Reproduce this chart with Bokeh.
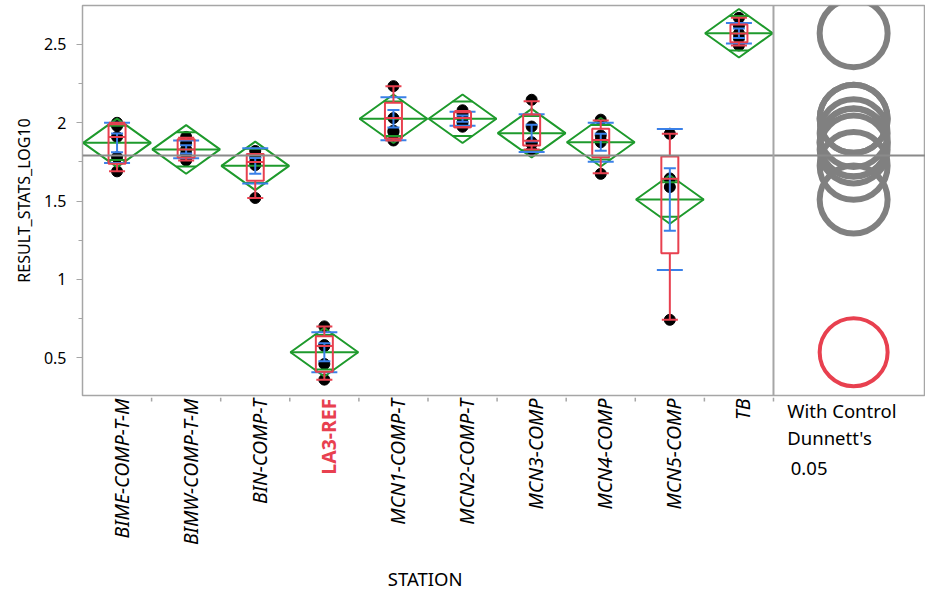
import numpy as np
from bokeh.plotting import figure
from bokeh.layouts import column
from bokeh.models import Range1d, FixedTicker, Span, ColumnDataSource, NumeralTickFormatter, Title
from bokeh.core.properties import value
from bokeh.embed import file_html
from bokeh.resources import INLINE

# ---------------- data ----------------
stations = ["BIME-COMP-T-M", "BIMW-COMP-T-M", "BIN-COMP-T", "LA3-REF", "MCN1-COMP-T",
            "MCN2-COMP-T", "MCN3-COMP", "MCN4-COMP", "MCN5-COMP", "TB"]
control = "LA3-REF"

means    = [1.872, 1.830, 1.725, 0.535, 2.026, 2.026, 1.934, 1.876, 1.510, 2.572]
ci_half  = [0.155, 0.155, 0.155, 0.155, 0.155, 0.155, 0.155, 0.155, 0.155, 0.155]
q1       = [1.738, 1.778, 1.630, 0.410, 1.900, 1.972, 1.855, 1.780, 1.167, 2.515]
medians  = [1.910, 1.830, 1.750, 0.574, 2.030, 2.030, 1.885, 1.890, 1.642, 2.570]
q3       = [1.990, 1.895, 1.800, 0.637, 2.128, 2.068, 2.053, 1.962, 1.785, 2.628]
wlo      = [1.690, 1.760, 1.520, 0.360, 1.887, 1.972, 1.830, 1.678, 0.742, 2.494]
whi      = [2.000, 1.905, 1.800, 0.700, 2.234, 2.075, 2.138, 2.015, 1.930, 2.670]
std_dev  = [0.128, 0.057, 0.113, 0.128, 0.137, 0.045, 0.121, 0.125, 0.450, 0.066]
std_err  = [0.060, 0.026, 0.050, 0.057, 0.056, 0.020, 0.054, 0.054, 0.200, 0.030]

points = {
    "BIME-COMP-T-M": [2.00, 1.98, 1.91, 1.78, 1.69],
    "BIMW-COMP-T-M": [1.91, 1.87, 1.83, 1.80, 1.76],
    "BIN-COMP-T":    [1.82, 1.78, 1.75, 1.73, 1.52],
    "LA3-REF":       [0.70, 0.581, 0.574, 0.46, 0.36],
    "MCN1-COMP-T":   [2.234, 2.03, 1.95, 1.94, 1.887],
    "MCN2-COMP-T":   [2.08, 2.06, 2.03, 2.00, 1.975],
    "MCN3-COMP":     [2.147, 1.976, 1.876, 1.866, 1.82],
    "MCN4-COMP":     [2.02, 1.919, 1.887, 1.876, 1.674],
    "MCN5-COMP":     [1.93, 1.645, 1.64, 1.59, 0.742],
    "TB":            [2.67, 2.62, 2.57, 2.54, 2.494],
}
dunnett_radius = 0.217
y_ticks = [0.5, 1, 1.5, 2, 2.5]
x_title = "STATION"
y_title = "RESULT_STATS_LOG10"
circle_notes = ["With Control", "Dunnett's", "0.05"]

# ---------------- styling ----------------
GREEN = "#1e9a2c"
RED = "#e8404f"
BLUE = "#3a80e8"
GREY = "#808080"
FRAME = "#a6a6a6"
FONT = "Noto Sans"
FS = "16px"
FS_CAT = "19.5px"
FS_TXT = "18.5px"

n = len(stations)
xc = np.arange(n) + 0.5
m = np.array(means)
h = np.array(ci_half)
dw = 0.49           # half width of diamond (category units)
bw = 0.123          # half width of box
cw = 0.116          # half width of whisker caps
sw = 0.188          # half width of std dev lines
ew = 0.087          # half width of error bar caps
circle_x = 11.16

x_range = Range1d(0, 12.2)
y_lo, y_hi = 0.2587, 2.749
p = figure(width=925, height=397, output_backend="svg", toolbar_location=None,
           x_range=x_range, y_range=Range1d(y_lo, y_hi),
           min_border_left=82, min_border_right=0, min_border_top=5, min_border_bottom=2)
p.background_fill_color = "white"
p.border_fill_color = "white"
p.outline_line_color = FRAME
p.outline_line_width = 1.5
p.xgrid.visible = False
p.ygrid.visible = False
p.xaxis.visible = False

# points
px, py = [], []
for i, s in enumerate(stations):
    for v in points[s]:
        px.append(xc[i]); py.append(v)
p.scatter(px, py, size=11, color="black")

# grand mean and divider
p.add_layout(Span(location=float(np.mean(means)), dimension="width", line_color="#8a8a8a", line_width=2))
p.add_layout(Span(location=10, dimension="height", line_color=FRAME, line_width=2))

# means diamonds
xs = [[c - dw, c, c + dw, c] for c in xc]
ys = [[mm, mm + hh, mm, mm - hh] for mm, hh in zip(m, h)]
p.patches(xs, ys, fill_color=None, line_color=GREEN, line_width=2)
p.segment(xc - dw, m, xc + dw, m, line_color=GREEN, line_width=2)
ov = h / np.sqrt(2)
ow = dw * (1 - 1 / np.sqrt(2))
p.segment(xc - ow, m + ov, xc + ow, m + ov, line_color=GREEN, line_width=2)
p.segment(xc - ow, m - ov, xc + ow, m - ov, line_color=GREEN, line_width=2)

# std dev lines and mean error bars
sd = np.array(std_dev); se = np.array(std_err)
p.segment(xc - sw, m + sd, xc + sw, m + sd, line_color=BLUE, line_width=2)
p.segment(xc - sw, m - sd, xc + sw, m - sd, line_color=BLUE, line_width=2)
p.segment(xc, m - se, xc, m + se, line_color=BLUE, line_width=2)
p.segment(xc - ew, m + se, xc + ew, m + se, line_color=BLUE, line_width=2)
p.segment(xc - ew, m - se, xc + ew, m - se, line_color=BLUE, line_width=2)

# box plots
p.segment(xc, np.array(q3), xc, np.array(whi), line_color=RED, line_width=2)
p.segment(xc, np.array(q1), xc, np.array(wlo), line_color=RED, line_width=2)
p.segment(xc - cw, np.array(whi), xc + cw, np.array(whi), line_color=RED, line_width=2)
p.segment(xc - cw, np.array(wlo), xc + cw, np.array(wlo), line_color=RED, line_width=2)
p.quad(left=xc - bw, right=xc + bw, bottom=q1, top=q3, fill_color=None, line_color=RED, line_width=2)
p.segment(xc - bw, np.array(medians), xc + bw, np.array(medians), line_color=RED, line_width=2)

# comparison circles (Dunnett's with control)
others = [mm for s, mm in zip(stations, means) if s != control]
ctrl = [mm for s, mm in zip(stations, means) if s == control]
p.circle([circle_x] * len(others), others, radius=dunnett_radius, radius_dimension="y",
         fill_color=None, line_color=GREY, line_width=6)
p.circle([circle_x] * len(ctrl), ctrl, radius=dunnett_radius, radius_dimension="y",
         fill_color=None, line_color=RED, line_width=4)

# y axis
p.yaxis.ticker = FixedTicker(ticks=y_ticks, minor_ticks=list(np.arange(0.25, 2.76, 0.25)))
p.yaxis.formatter = NumeralTickFormatter(format="0.[0]")
p.yaxis.major_label_text_font = FONT
p.yaxis.major_label_text_font_size = FS
p.yaxis.major_label_text_color = "black"
p.yaxis.major_label_standoff = 10
p.yaxis.axis_line_color = FRAME
p.yaxis.major_tick_line_color = FRAME
p.yaxis.minor_tick_line_color = FRAME
p.yaxis.major_tick_out = 6
p.yaxis.major_tick_in = 0
p.yaxis.minor_tick_out = 4
p.yaxis.minor_tick_in = 0

# y title as a left-side title (sits a little above the frame centre, as in the reference)
p.add_layout(Title(text=y_title, align="center", offset=26, standoff=11,
                   text_font=FONT, text_font_size="16px", text_font_style="normal",
                   text_color="black"), "left")

# ---------------- bottom strip: x ticks and labels ----------------
# y here is pixels below the main frame's bottom edge (negative = down)
b = figure(width=925, height=193, output_backend="svg", toolbar_location=None,
           x_range=x_range, y_range=Range1d(-195, -2),
           min_border_left=82, min_border_right=0, min_border_top=0, min_border_bottom=0)
b.outline_line_color = None
b.axis.visible = False
b.grid.visible = False
b.background_fill_color = "white"
b.border_fill_color = "white"

bounds = list(range(1, n + 1))
b.segment(bounds, [-2] * len(bounds), bounds, [-6] * len(bounds), line_color=FRAME, line_width=1.5)

lab_src = ColumnDataSource(dict(x=[c for c, s in zip(xc, stations) if s != control],
                                t=[s for s in stations if s != control]))
b.text(x="x", y=-3, text="t", source=lab_src, angle=np.pi / 2, x_offset=4,
       text_align="right", text_baseline="middle", text_font=value(FONT),
       text_font_size=FS_CAT, text_font_style="italic", text_color="black")
ctrl_src = ColumnDataSource(dict(x=[c for c, s in zip(xc, stations) if s == control],
                                 t=[s for s in stations if s == control]))
b.text(x="x", y=-3, text="t", source=ctrl_src, angle=np.pi / 2, x_offset=4,
       text_align="right", text_baseline="middle", text_font=value(FONT),
       text_font_size=FS_CAT, text_font_style="bold", text_color=RED)

b.text(x=[4.96], y=[-183], text=[x_title], text_align="center", text_baseline="middle",
       text_font=value(FONT), text_font_size=FS_TXT, text_color="black")
b.text(x=[10.2, 10.2, 10.25], y=[-15, -42, -73], text=circle_notes, text_align="left",
       text_baseline="middle", text_font=value(FONT), text_font_size=FS_TXT, text_color="black")

open("out.html", "w").write(file_html(column(p, b, spacing=0), INLINE))
